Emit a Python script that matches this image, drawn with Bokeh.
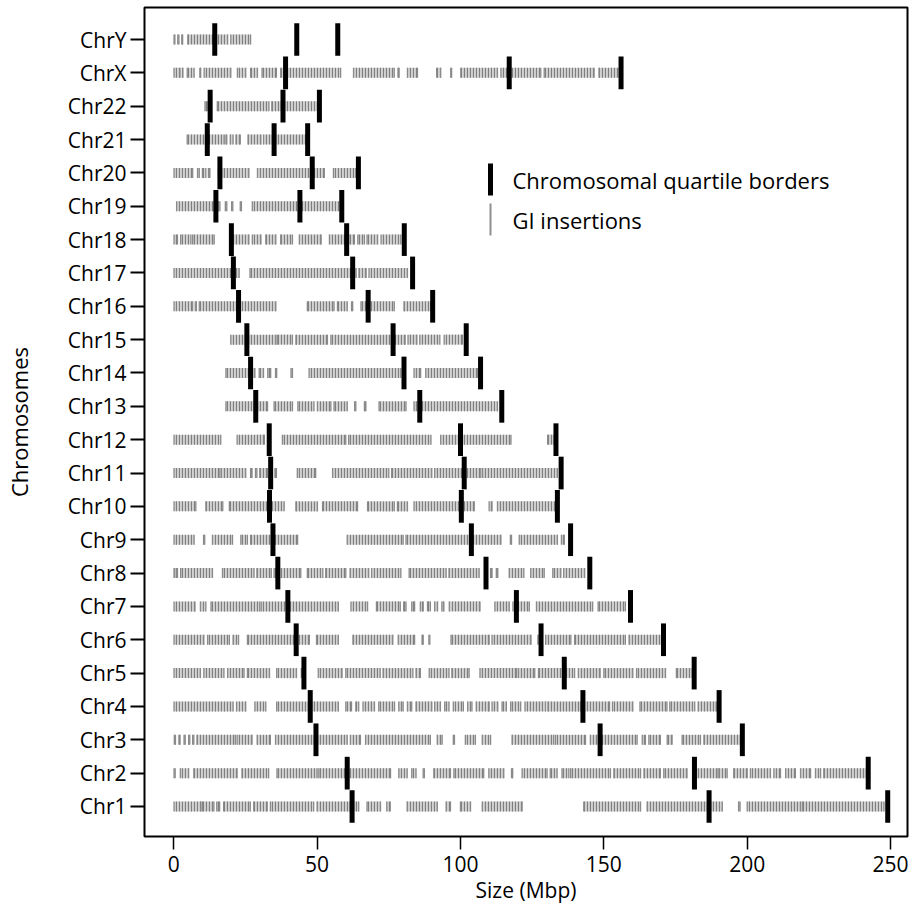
from bokeh.plotting import figure
from bokeh.models import FixedTicker, Range1d, Label, BoxAnnotation, ColumnDataSource
from bokeh.embed import file_html
from bokeh.resources import INLINE

# ---------------- data ----------------
chromosomes = ["Chr1", "Chr2", "Chr3", "Chr4", "Chr5", "Chr6", "Chr7", "Chr8", "Chr9",
               "Chr10", "Chr11", "Chr12", "Chr13", "Chr14", "Chr15", "Chr16", "Chr17",
               "Chr18", "Chr19", "Chr20", "Chr21", "Chr22", "ChrX", "ChrY"]

# chromosomal quartile borders (Mbp): first quartile, third quartile, end
quartile_1 = [62.2, 60.5, 49.6, 47.6, 45.4, 42.7, 39.8, 36.3, 34.6, 33.4, 33.8, 33.3,
              28.6, 26.8, 25.5, 22.6, 20.8, 20.1, 14.7, 16.1, 11.7, 12.7, 39.0, 14.3]
quartile_3 = [186.7, 181.6, 148.7, 142.7, 136.2, 128.1, 119.5, 108.9, 103.8, 100.3, 101.3, 100.0,
              85.8, 80.3, 76.5, 67.8, 62.4, 60.3, 44.0, 48.3, 35.0, 38.1, 117.0, 42.9]
chrom_end = [249.0, 242.2, 198.3, 190.2, 181.5, 170.8, 159.3, 145.1, 138.4, 133.8, 135.1, 133.3,
             114.4, 107.0, 102.0, 90.3, 83.3, 80.4, 58.6, 64.4, 46.7, 50.8, 156.0, 57.2]

# GI insertion stretches (start, end in Mbp) per chromosome
gi_chr1 = [(0.1, 9.5), (10.0, 14.0), (15.0, 16.0), (17.4, 26.7), (27.9, 32.6), (33.7, 48.8),
           (50.0, 61.6), (62.5, 64.5), (67.4, 72.1), (74.3, 75.5), (81.4, 91.9), (95.0, 96.5),
           (100.0, 103.5), (107.6, 121.5), (143.0, 162.8), (165.1, 191.3), (197.0, 197.5),
           (200.0, 218.6), (219.2, 247.7)]
gi_chr2 = [(0.1, 0.5), (2.3, 5.2), (7.0, 22.1), (23.8, 33.1), (36.0, 50.0), (50.6, 75.6),
           (78.5, 81.4), (83.0, 84.5), (87.0, 87.4), (90.7, 96.5), (97.7, 108.1), (109.9, 115.1),
           (117.8, 118.2), (121.5, 130.2), (131.3, 133.7), (135.4, 137.8), (138.4, 152.3),
           (153.5, 162.8), (164.0, 169.7), (170.9, 179.0), (181.4, 189.5), (190.1, 193.0),
           (195.3, 200.0), (201.1, 208.1), (209.3, 211.6), (213.4, 216.8), (218.6, 222.1),
           (223.8, 225.6), (226.7, 241.8)]
gi_chr3 = [(0.2, 0.6), (1.8, 2.2), (3.6, 4.0), (5.2, 5.6), (6.6, 7.0), (8.1, 21.5), (22.1, 27.3),
           (29.1, 33.7), (35.5, 60.5), (61.6, 65.1), (66.9, 89.5), (91.9, 93.6), (97.5, 97.9),
           (101.7, 105.2), (107.6, 110.5), (118.0, 132.5), (133.1, 143.6), (145.3, 161.6),
           (163.4, 164.5), (165.7, 169.7), (172.1, 173.8), (177.3, 183.7), (184.9, 197.7)]
gi_chr4 = [(0.1, 20.7), (21.9, 25.1), (28.3, 32.1), (35.9, 57.4), (60.0, 62.0), (63.5, 64.5),
           (66.0, 70.0), (71.5, 77.0), (78.5, 80.0), (81.5, 83.0), (84.5, 90.0), (91.0, 93.0),
           (94.5, 96.0), (97.5, 101.0), (102.5, 104.0), (105.5, 110.0), (111.0, 113.0),
           (114.5, 116.0), (117.5, 121.0), (122.5, 129.7), (130.5, 142.0), (143.0, 152.0),
           (153.0, 160.1), (162.6, 172.0), (173.0, 181.7), (182.9, 189.2)]
gi_chr5 = [(0.1, 9.3), (10.5, 17.5), (18.8, 24.5), (25.7, 33.4), (35.9, 42.8), (44.5, 45.0),
           (50.4, 58.7), (60.0, 72.0), (73.0, 83.4), (84.5, 86.0), (89.1, 96.0), (97.0, 103.0),
           (106.8, 119.6), (120.2, 125.9), (127.2, 139.8), (141.1, 148.7), (150.0, 160.1),
           (161.4, 171.5), (175.3, 181.5)]
gi_chr6 = [(0.1, 10.5), (11.8, 19.4), (20.7, 22.6), (25.7, 47.3), (49.8, 57.4), (62.5, 76.4),
           (78.3, 84.0), (86.6, 87.0), (89.0, 89.3), (96.7, 110.0), (111.0, 124.6), (127.0, 127.5),
           (129.7, 138.5), (139.8, 157.5), (158.8, 170.8)]
gi_chr7 = [(0.1, 7.4), (9.3, 11.2), (13.0, 30.0), (30.5, 57.4), (61.8, 67.6), (70.7, 79.0),
           (80.2, 81.0), (83.0, 84.0), (86.0, 87.0), (88.5, 89.5), (91.0, 92.0), (93.5, 94.2),
           (96.1, 106.8), (112.0, 117.0), (118.3, 124.0), (126.5, 146.1), (148.0, 157.5)]
gi_chr8 = [(0.1, 0.4), (1.0, 1.3), (2.4, 13.5), (17.0, 28.0), (29.0, 34.0), (35.0, 44.3),
           (46.6, 52.0), (53.0, 60.0), (61.5, 68.0), (69.0, 79.2), (82.1, 95.0), (96.0, 106.5),
           (110.5, 111.0), (112.5, 113.0), (117.0, 122.1), (124.5, 129.2), (132.2, 135.0),
           (136.0, 143.3)]
gi_chr9 = [(0.1, 7.1), (10.4, 10.8), (13.5, 20.5), (23.4, 25.7), (26.8, 43.2), (60.5, 80.0),
           (81.0, 114.1), (117.4, 117.8), (120.5, 133.8), (135.2, 136.2)]
gi_chr10 = [(0.1, 7.7), (11.2, 17.1), (19.4, 38.5), (42.6, 50.1), (51.9, 64.1), (67.6, 76.9),
            (78.0, 81.5), (83.8, 104.8), (110.0, 111.0), (112.9, 133.3)]
gi_chr11 = [(0.1, 16.1), (16.6, 25.1), (26.8, 27.3), (28.5, 29.0), (30.0, 32.7), (35.3, 35.8),
            (43.1, 49.5), (55.4, 75.0), (76.0, 90.0), (91.0, 107.1), (107.7, 133.8)]
gi_chr12 = [(0.1, 16.4), (22.1, 31.6), (37.9, 60.0), (61.0, 89.7), (93.1, 117.6), (130.4, 132.7)]
gi_chr13 = [(18.2, 32.7), (35.0, 41.4), (43.3, 48.9), (50.1, 54.8), (55.9, 60.5), (63.1, 63.5),
            (66.5, 67.0), (71.6, 81.0), (83.8, 112.9)]
gi_chr14 = [(18.2, 26.2), (26.8, 28.3), (29.8, 31.3), (32.8, 33.8), (35.5, 35.9), (40.9, 41.4),
            (47.2, 79.2), (83.8, 86.1), (87.9, 105.9)]
gi_chr15 = [(19.9, 35.6), (36.1, 41.4), (42.6, 53.6), (54.8, 80.7), (81.7, 84.8), (85.8, 92.8),
            (94.3, 100.7)]
gi_chr16 = [(0.1, 6.6), (7.5, 7.9), (8.9, 35.6), (46.6, 55.9), (57.1, 60.5), (62.0, 62.4),
            (65.3, 76.9), (80.3, 89.6)]
gi_chr17 = [(0.1, 22.8), (26.6, 63.6), (64.6, 67.1), (68.1, 81.5)]
gi_chr18 = [(0.1, 1.3), (2.4, 6.0), (6.6, 14.1), (20.6, 26.2), (27.4, 30.4), (32.1, 35.6),
            (37.3, 41.4), (43.8, 51.4), (54.3, 60.0), (61.0, 63.0), (64.2, 66.5), (67.4, 71.1),
            (72.3, 79.2)]
gi_chr19 = [(1.0, 14.1), (15.6, 16.1), (18.0, 18.5), (20.2, 20.6), (23.2, 23.6), (27.4, 58.3)]
gi_chr20 = [(0.1, 6.6), (8.3, 8.9), (10.0, 11.2), (12.1, 12.6), (15.6, 26.2), (29.2, 52.5),
            (55.7, 63.5)]
gi_chr21 = [(4.7, 17.6), (18.2, 18.5), (19.7, 20.7), (21.7, 23.2), (25.9, 30.4), (31.3, 46.0)]
gi_chr22 = [(10.9, 11.9), (15.2, 33.2), (34.2, 50.2)]
gi_chrX = [(0.1, 2.2), (3.0, 3.2), (4.7, 7.1), (9.1, 9.4), (10.6, 19.9), (22.2, 25.1), (26.8, 29.2),
           (30.8, 35.8), (37.3, 58.2), (62.7, 76.9), (78.2, 78.6), (81.5, 85.0), (91.7, 93.1),
           (96.6, 96.9), (100.1, 112.9), (114.1, 128.0), (129.2, 146.6), (148.3, 155.4)]
gi_chrY = [(0.1, 0.4), (1.4, 1.8), (2.8, 3.1), (4.9, 18.8), (19.9, 26.8)]

gi_runs = [gi_chr1, gi_chr2, gi_chr3, gi_chr4, gi_chr5, gi_chr6, gi_chr7, gi_chr8, gi_chr9,
           gi_chr10, gi_chr11, gi_chr12, gi_chr13, gi_chr14, gi_chr15, gi_chr16, gi_chr17,
           gi_chr18, gi_chr19, gi_chr20, gi_chr21, gi_chr22, gi_chrX, gi_chrY]

x_ticks = [0, 50, 100, 150, 200, 250]

# ---------------- sources ----------------
y_of = {name: i + 1 for i, name in enumerate(chromosomes)}
GI_HALF = 0.15
q_left, q_right, q_bottom, q_top = [], [], [], []
e_x, e_y0, e_y1 = [], [], []
for name, runs in zip(chromosomes, gi_runs):
    y = y_of[name]
    for s, e in runs:
        q_left.append(s); q_right.append(e)
        q_bottom.append(y - GI_HALF); q_top.append(y + GI_HALF)
        for edge in (s, e):
            e_x.append(edge); e_y0.append(y - GI_HALF); e_y1.append(y + GI_HALF)

gi_src = ColumnDataSource(dict(left=q_left, right=q_right, bottom=q_bottom, top=q_top))
edge_src = ColumnDataSource(dict(x=e_x, y0=e_y0, y1=e_y1))

bx, by = [], []
for i, name in enumerate(chromosomes):
    for v in (quartile_1[i], quartile_3[i], chrom_end[i]):
        bx.append(v); by.append(y_of[name])
bar_src = ColumnDataSource(dict(x=bx, y=by))

# ---------------- figure ----------------
FONT = "Open Sans"
p = figure(width=909, height=911, output_backend="svg", toolbar_location=None,
           x_range=Range1d(-10.2, 255.9), y_range=Range1d(0.1, 24.96),
           min_border_top=7, min_border_right=2, min_border_left=144, min_border_bottom=75)
p.grid.visible = False
p.outline_line_color = "black"
p.outline_line_width = 2
p.background_fill_color = "white"
p.border_fill_color = "white"

p.quad(left="left", right="right", bottom="bottom", top="top", source=gi_src,
       fill_color="#d2d2d2", line_color=None,
       hatch_pattern="|", hatch_color="#7f7f7f", hatch_scale=3, hatch_weight=1.2)
p.segment(x0="x", y0="y0", x1="x", y1="y1", source=edge_src,
          line_color="#8a8a8a", line_width=1.3)
p.rect(x="x", y="y", width=5, height=0.98, width_units="screen", source=bar_src,
       fill_color="black", line_color=None)

# axes
p.xaxis.ticker = FixedTicker(ticks=x_ticks)
p.xaxis.axis_label = "Size (Mbp)"
p.yaxis.ticker = FixedTicker(ticks=list(range(1, len(chromosomes) + 1)))
p.yaxis.major_label_overrides = {i + 1: name for i, name in enumerate(chromosomes)}
p.yaxis.axis_label = "Chromosomes"
for ax in (p.xaxis[0], p.yaxis[0]):
    ax.axis_line_color = None
    ax.minor_tick_line_color = None
    ax.major_tick_in = 0
    ax.major_tick_line_color = "black"
    ax.major_label_text_font = FONT
    ax.major_label_text_font_size = "21px"
    ax.major_label_text_color = "black"
    ax.axis_label_text_font = FONT
    ax.axis_label_text_font_size = "21px"
    ax.axis_label_text_font_style = "normal"
    ax.axis_label_text_color = "black"
p.xaxis.major_tick_out = 13
p.xaxis.major_tick_line_width = 1.5
p.xaxis.major_label_standoff = 6
p.xaxis.axis_label_standoff = 1
p.yaxis.major_tick_out = 14
p.yaxis.major_tick_line_width = 2
p.yaxis.major_label_standoff = 4
p.yaxis.axis_label_standoff = 31
p.yaxis.axis_label_text_font_size = "22px"

# legend (screen units, relative to the plot frame)
p.add_layout(BoxAnnotation(left=343.5, right=348.5, bottom=641, top=673,
                           left_units="screen", right_units="screen",
                           bottom_units="screen", top_units="screen",
                           fill_color="black", fill_alpha=1, line_color=None))
p.add_layout(BoxAnnotation(left=345, right=347, bottom=601, top=633,
                           left_units="screen", right_units="screen",
                           bottom_units="screen", top_units="screen",
                           fill_color="#909090", fill_alpha=1, line_color=None))
p.add_layout(Label(x=368, y=657, x_units="screen", y_units="screen",
                   text="Chromosomal quartile borders", text_font=FONT,
                   text_font_size="22px", text_baseline="middle", text_align="left",
                   text_color="black"))
p.add_layout(Label(x=368, y=617, x_units="screen", y_units="screen",
                   text="GI insertions", text_font=FONT,
                   text_font_size="22px", text_baseline="middle", text_align="left",
                   text_color="black"))

open("out.html", "w").write(file_html(p, INLINE))
